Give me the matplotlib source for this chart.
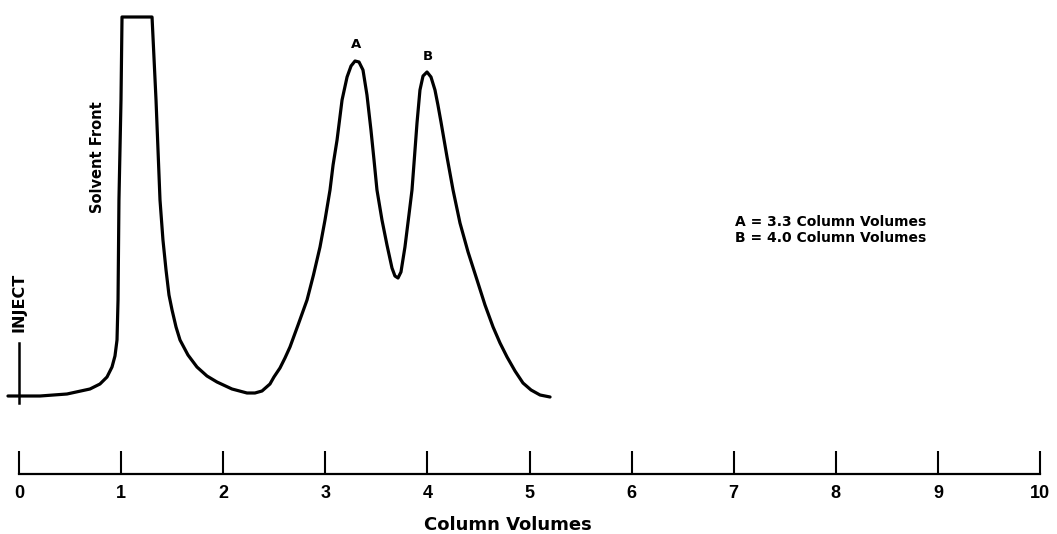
import matplotlib
matplotlib.use("Agg")
import matplotlib.pyplot as plt

# trace (column volumes, detector response)
volumes = [-0.108, 0.206, 0.470, 0.695, 0.793, 0.862, 0.911, 0.940, 0.960, 0.970,
           0.979, 0.999, 1.009, 1.303, 1.342, 1.381, 1.410, 1.440, 1.469, 1.499,
           1.538, 1.577, 1.655, 1.743, 1.841, 1.939, 2.086, 2.233, 2.311, 2.380,
           2.458, 2.497, 2.556, 2.605, 2.654, 2.733, 2.821, 2.884, 2.948, 2.997,
           3.046, 3.076, 3.115, 3.164, 3.213, 3.252, 3.291, 3.330, 3.369, 3.408,
           3.447, 3.477, 3.506, 3.555, 3.604, 3.653, 3.682, 3.712, 3.741, 3.780,
           3.819, 3.849, 3.874, 3.898, 3.927, 3.957, 3.996, 4.035, 4.074, 4.103,
           4.133, 4.192, 4.251, 4.319, 4.398, 4.486, 4.564, 4.643, 4.711, 4.780,
           4.858, 4.936, 5.015, 5.103, 5.201]
response = [0, 0, 2, 7, 12, 19, 29, 40, 56, 96,
            196, 296, 379, 379, 296, 196, 156, 126, 101, 86,
            69, 56, 41, 29, 20, 14, 7, 3, 3, 5,
            12, 19, 28, 38, 49, 71, 96, 121, 149, 176,
            206, 231, 256, 296, 319, 330, 335, 334, 326, 301,
            266, 236, 206, 176, 151, 128, 120, 118, 124, 149,
            181, 206, 240, 273, 306, 320, 324, 319, 306, 291,
            274, 239, 206, 173, 144, 116, 91, 69, 53, 39,
            25, 13, 6, 1, -1]

ticks = list(range(11))
tick_labels = [str(t) for t in ticks]
peak_names = ["A", "B"]
peak_pos = [3.30, 4.006]
peak_top = [335, 324]
legend_lines = ["A = 3.3 Column Volumes", "B = 4.0 Column Volumes"]

fig = plt.figure(figsize=(10.57, 5.34), dpi=100)
ax = fig.add_axes([0, 0, 1, 1])
ax.set_xlim(-0.186, 10.166)
ax.set_ylim(-138, 396)

ax.plot(volumes, response, color="black", lw=2.3, solid_joinstyle="round",
        solid_capstyle="round")

# inject mark
ax.plot([0, 0], [-7, 53], color="black", lw=1.8)
ax.text(0, 94, "INJECT", rotation=90, ha="center", va="center",
        fontsize=11.5, fontweight="bold", family="DejaVu Sans")
ax.text(0.764, 239, "Solvent Front", rotation=90, ha="center", va="center",
        fontsize=10.5, fontweight="bold", family="DejaVu Sans")

for name, xp, top in zip(peak_names, peak_pos, peak_top):
    ax.text(xp, top + 16, name, ha="center", va="center",
            fontsize=9.5, fontweight="bold", family="DejaVu Sans")

for i, line in enumerate(legend_lines):
    ax.text(7.013, 174 - 16 * i, line, ha="left", va="center",
            fontsize=10, fontweight="bold", family="DejaVu Sans")

# axis along the bottom
for s in ["top", "left", "right"]:
    ax.spines[s].set_visible(False)
ax.spines["bottom"].set_position(("data", -78))
ax.spines["bottom"].set_bounds(0, 10)
ax.spines["bottom"].set_linewidth(1.6)
ax.set_yticks([])
ax.set_xticks(ticks)
ax.set_xticklabels(tick_labels, fontsize=13, fontweight="bold",
                   family="Liberation Sans")
ax.tick_params(axis="x", direction="in", length=16.5, width=1.5, pad=8)
ax.text(4.79, -129, "Column Volumes", ha="center", va="center",
        fontsize=13, fontweight="bold", family="DejaVu Sans")

fig.savefig("out.png", dpi=100)
